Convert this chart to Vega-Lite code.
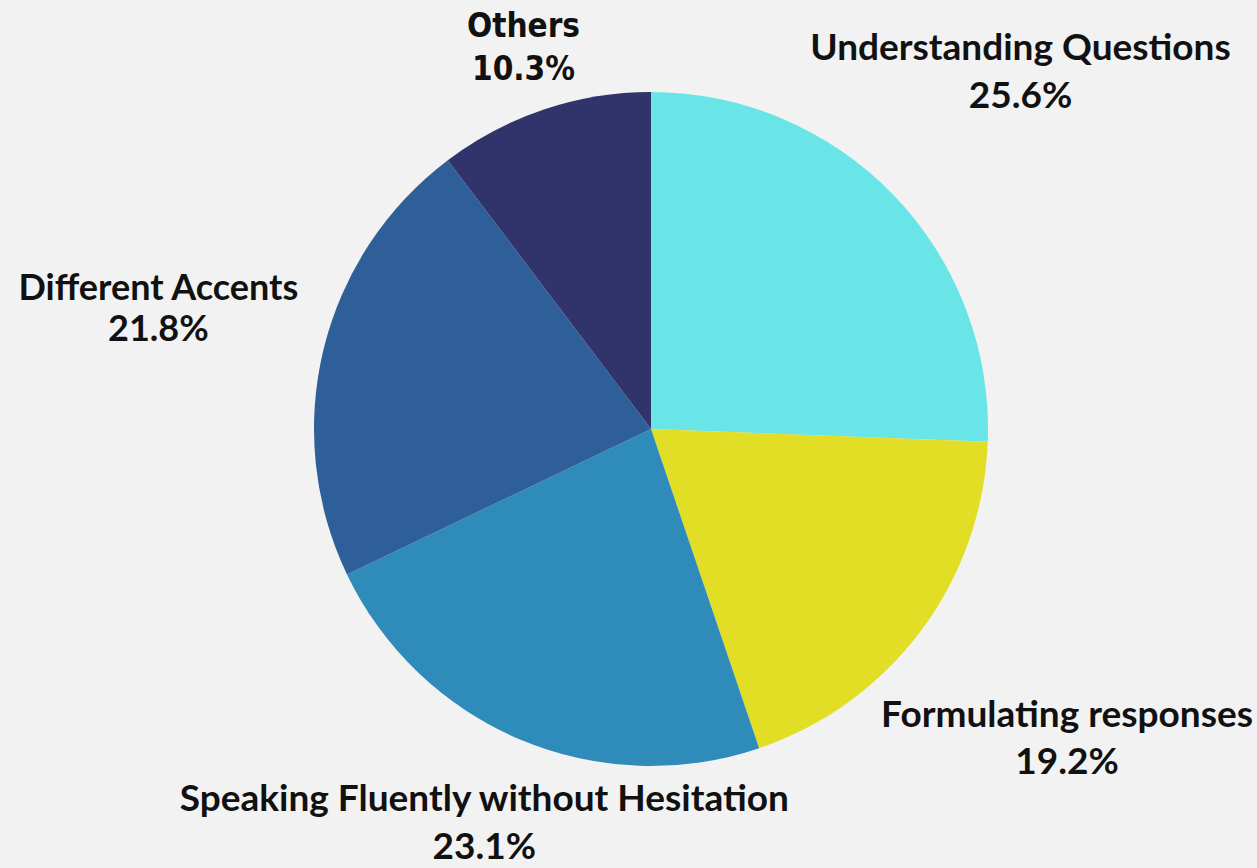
{
  "$schema": "https://vega.github.io/schema/vega-lite/v6.json",
  "width": 1212,
  "height": 858,
  "autosize": "none",
  "padding": {"left": 45, "top": 0, "right": 0, "bottom": 10},
  "background": "#f2f2f2",
  "config": {"view": {"stroke": null}},
  "data": {
    "values": [
      {"order": 1, "label": "Understanding Questions", "value": 25.6, "text": "Understanding Questions\n25.6%"},
      {"order": 2, "label": "Formulating responses", "value": 19.2, "text": "Formulating responses\n19.2%"},
      {"order": 3, "label": "Speaking Fluently without Hesitation", "value": 23.1, "text": "Speaking Fluently without Hesitation\n23.1%"},
      {"order": 4, "label": "Different Accents", "value": 21.8, "text": "Different Accents\n21.8%"},
      {"order": 5, "label": "Others", "value": 10.3, "text": "Others\n10.3%"}
    ]
  },
  "encoding": {
    "theta": {"field": "value", "type": "quantitative", "stack": true},
    "order": {"field": "order", "type": "quantitative"}
  },
  "layer": [
    {
      "mark": {"type": "arc", "outerRadius": 337},
      "encoding": {
        "color": {
          "field": "label",
          "type": "nominal",
          "legend": null,
          "sort": {"field": "order"},
          "scale": {
            "domain": ["Understanding Questions", "Formulating responses", "Speaking Fluently without Hesitation", "Different Accents", "Others"],
            "range": ["#69e5e8", "#e2de26", "#2e8bba", "#2f5f98", "#30346b"]
          }
        }
      }
    },
    {
      "mark": {"type": "text", "radius": 513, "dy": -24, "font": "Lato", "fontWeight": "bold", "fontSize": 37, "lineBreak": "\n", "lineHeight": 48, "fill": "#111111"},
      "encoding": {
        "text": {"field": "text"},
        "opacity": {"condition": {"test": "datum.label == 'Understanding Questions'", "value": 1}, "value": 0}
      }
    },
    {
      "mark": {"type": "text", "radius": 519, "dy": -23.5, "font": "Lato", "fontWeight": "bold", "fontSize": 37, "lineBreak": "\n", "lineHeight": 47, "fill": "#111111"},
      "encoding": {
        "text": {"field": "text"},
        "opacity": {"condition": {"test": "datum.label == 'Formulating responses'", "value": 1}, "value": 0}
      }
    },
    {
      "mark": {"type": "text", "radius": 429, "dy": -24, "font": "Lato", "fontWeight": "bold", "fontSize": 37, "lineBreak": "\n", "lineHeight": 48, "fill": "#111111"},
      "encoding": {
        "text": {"field": "text"},
        "opacity": {"condition": {"test": "datum.label == 'Speaking Fluently without Hesitation'", "value": 1}, "value": 0}
      }
    },
    {
      "mark": {"type": "text", "radius": 507, "dy": -20.5, "font": "Lato", "fontWeight": "bold", "fontSize": 36, "lineBreak": "\n", "lineHeight": 41, "fill": "#111111"},
      "encoding": {
        "text": {"field": "text"},
        "opacity": {"condition": {"test": "datum.label == 'Different Accents'", "value": 1}, "value": 0}
      }
    },
    {
      "mark": {"type": "text", "radius": 401, "dy": -21.5, "font": "Liberation Sans Narrow, DejaVu Sans Condensed", "fontWeight": "bold", "fontSize": 33, "lineBreak": "\n", "lineHeight": 43, "fill": "#111111"},
      "encoding": {
        "text": {"field": "text"},
        "opacity": {"condition": {"test": "datum.label == 'Others'", "value": 1}, "value": 0}
      }
    }
  ]
}
